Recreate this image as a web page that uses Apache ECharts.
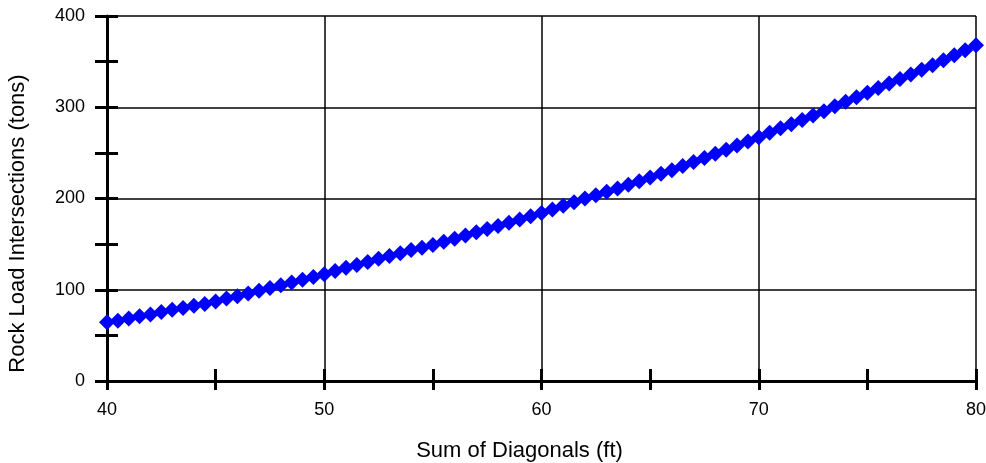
<!DOCTYPE html>
<html>
<head>
<meta charset="utf-8">
<script src="https://cdn.jsdelivr.net/npm/echarts@6/dist/echarts.min.js"></script>
<style>
	html, body { margin: 0; padding: 0; background: #fff; }
	#chart { width: 986px; height: 463px; }
</style>
</head>
<body>
<div id="chart"></div>
<script>
// 横轴：对角线之和 (ft)
const diagonals = [
	40, 40.5, 41, 41.5, 42, 42.5, 43, 43.5, 44, 44.5,
	45, 45.5, 46, 46.5, 47, 47.5, 48, 48.5, 49, 49.5,
	50, 50.5, 51, 51.5, 52, 52.5, 53, 53.5, 54, 54.5,
	55, 55.5, 56, 56.5, 57, 57.5, 58, 58.5, 59, 59.5,
	60, 60.5, 61, 61.5, 62, 62.5, 63, 63.5, 64, 64.5,
	65, 65.5, 66, 66.5, 67, 67.5, 68, 68.5, 69, 69.5,
	70, 70.5, 71, 71.5, 72, 72.5, 73, 73.5, 74, 74.5,
	75, 75.5, 76, 76.5, 77, 77.5, 78, 78.5, 79, 79.5,
	80,
];
// 纵轴：岩石荷载 (tons)
const rockLoad = [
	64.5, 66, 68.5, 71, 73, 75.5, 78, 80, 82.5, 84.5,
	87, 90.5, 93, 96, 99, 102, 105, 108, 111, 114,
	117, 120.5, 124, 127, 130.5, 134, 137, 140, 143.5, 146,
	149, 152.5, 156, 159.5, 163, 166.5, 170, 173.5, 177, 180.5,
	184, 188, 192, 196, 200, 203.5, 207.5, 211, 215, 219,
	223, 227, 231, 235.5, 240, 244.5, 249, 253.5, 258, 262.5,
	267, 272, 277, 281.5, 286, 291, 295.5, 301, 306, 311,
	316, 321, 326, 331, 336, 341, 346, 351.5, 357, 362.5,
	368,
];
const xLabels = [40, 50, 60, 70, 80];
const yLabels = [0, 100, 200, 300, 400];

const font = 'Liberation Sans, Arial, sans-serif';
const chart = echarts.init(document.getElementById('chart'));

const option = {
	backgroundColor: '#fff',
	animation: false,
	grid: { left: 107, right: 10, top: 16, bottom: 82, outerBoundsMode: 'none', containLabel: false },
	xAxis: [
		{
			type: 'value',
			position: 'bottom',
			min: 40,
			max: 80,
			interval: 5,
			name: 'Sum of Diagonals (ft)',
			nameLocation: 'middle',
			nameGap: 59,
			nameTextStyle: { color: '#000', fontSize: 22, fontFamily: font, padding: [0, 44, 0, 0] },
			axisLine: { show: true, onZero: false, lineStyle: { color: '#000', width: 3 } },
			axisTick: { show: true, inside: false, length: 9, lineStyle: { color: '#000', width: 3 } },
			axisLabel: {
				color: '#000',
				fontSize: 18,
				fontFamily: font,
				margin: 20,
				formatter: (v) => (xLabels.includes(v) ? String(v) : ''),
			},
			splitLine: { show: false },
		},
		{
			// 轴线内侧的刻度
			type: 'value',
			position: 'bottom',
			min: 40,
			max: 80,
			interval: 5,
			axisLine: { show: false },
			axisTick: { show: true, inside: true, length: 12, lineStyle: { color: '#000', width: 3 } },
			axisLabel: { show: false },
			splitLine: { show: false },
		},
		{
			// 竖向网格线
			type: 'value',
			position: 'bottom',
			min: 40,
			max: 80,
			interval: 10,
			axisLine: { show: false },
			axisTick: { show: false },
			axisLabel: { show: false },
			splitLine: { show: true, lineStyle: { color: '#000', width: 1.5 } },
		},
	],
	yAxis: [
		{
			type: 'value',
			position: 'left',
			min: 0,
			max: 400,
			interval: 50,
			name: 'Rock Load Intersections (tons)',
			nameLocation: 'middle',
			nameGap: 78,
			nameRotate: 90,
			nameTextStyle: { color: '#000', fontSize: 22, fontFamily: font, padding: [0, 50, 0, 0] },
			axisLine: { show: true, onZero: false, lineStyle: { color: '#000', width: 3 } },
			axisTick: { show: true, inside: false, length: 12, lineStyle: { color: '#000', width: 3 } },
			axisLabel: {
				color: '#000',
				fontSize: 18,
				fontFamily: font,
				margin: 22,
				formatter: (v) => (yLabels.includes(v) ? String(v) : ''),
			},
			splitLine: { show: false },
		},
		{
			type: 'value',
			position: 'left',
			min: 0,
			max: 400,
			interval: 50,
			axisLine: { show: false },
			axisTick: { show: true, inside: true, length: 11, lineStyle: { color: '#000', width: 3 } },
			axisLabel: { show: false },
			splitLine: { show: false },
		},
		{
			// 水平网格线
			type: 'value',
			position: 'left',
			min: 0,
			max: 400,
			interval: 100,
			axisLine: { show: false },
			axisTick: { show: false },
			axisLabel: { show: false },
			splitLine: { show: true, lineStyle: { color: '#000', width: 1.5 } },
		},
	],
	series: [
		{
			type: 'line',
			xAxisIndex: 0,
			yAxisIndex: 0,
			data: diagonals.map((d, i) => [d, rockLoad[i]]),
			symbol: 'diamond',
			symbolSize: [16, 16],
			showAllSymbol: true,
			lineStyle: { color: '#0000ff', width: 4 },
			itemStyle: { color: '#0000ff' },
		},
	],
};

chart.setOption(option);
</script>
</body>
</html>
